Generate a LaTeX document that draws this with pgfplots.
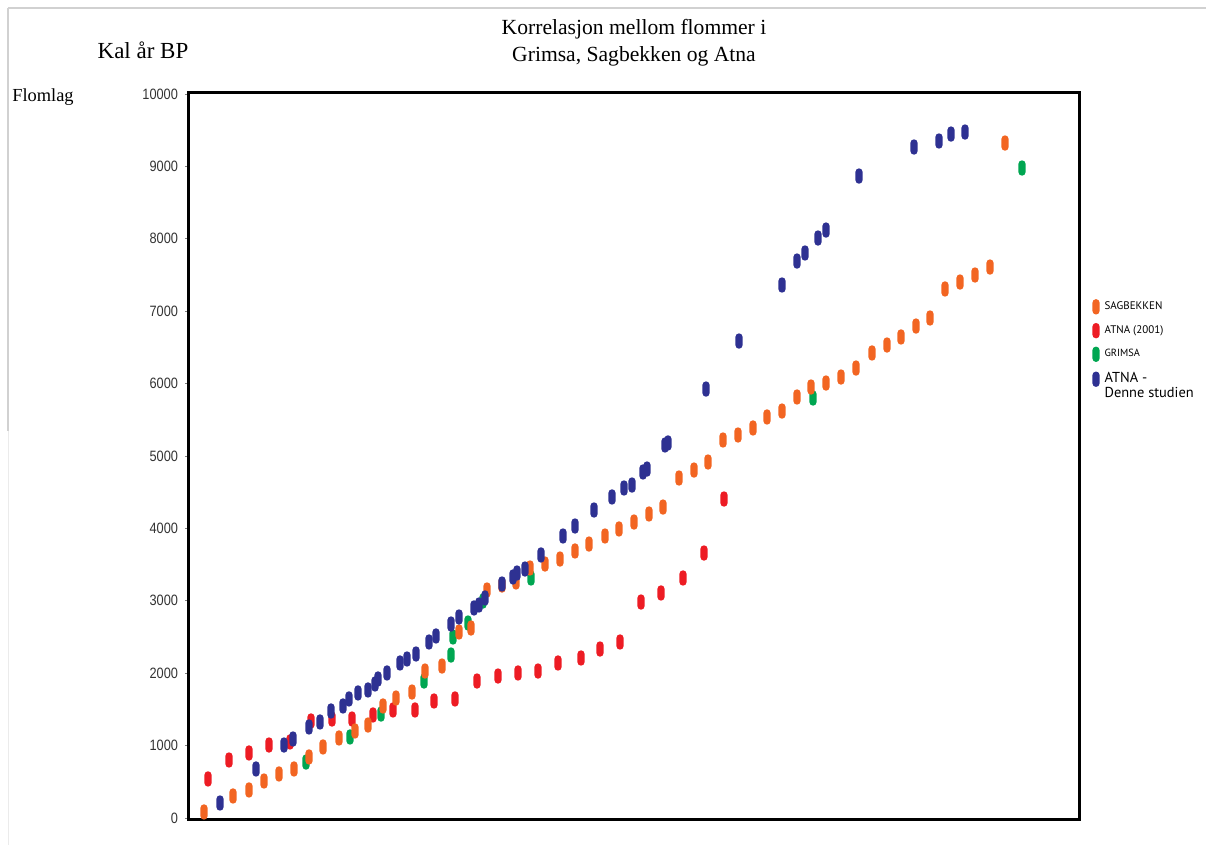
\documentclass[border=0pt]{standalone}
\usepackage{fontspec}
\setmainfont{Liberation Serif}
\newfontfamily\ticksans[FakeStretch=0.85]{Liberation Sans}
\newfontfamily\legsans{PT Sans}
\usepackage{pgfplots}
\pgfplotsset{compat=1.18}
\definecolor{cSag}{HTML}{F26522}
\definecolor{cAtna}{HTML}{ED1C24}
\definecolor{cGrim}{HTML}{00A651}
\definecolor{cDen}{HTML}{2E3192}
\pgfdeclareplotmark{pill}{%
  \pgfpathmoveto{\pgfpoint{-1.8pt}{-2.05pt}}%
  \pgfpathlineto{\pgfpoint{-1.8pt}{2.05pt}}%
  \pgfpatharc{180}{0}{1.8pt}%
  \pgfpathlineto{\pgfpoint{1.8pt}{-2.05pt}}%
  \pgfpatharc{0}{-180}{1.8pt}%
  \pgfpathclose
  \pgfusepathqfill}
\begin{document}
\begin{tikzpicture}
\path (0,0) rectangle (605pt,423.5pt);
\draw[black!18, line width=0.6pt] (4pt,419.5pt) -- (603pt,419.5pt);
\draw[black!18, line width=0.6pt] (4pt,419.5pt) -- (4pt,208pt);
\draw[black!8, line width=0.8pt] (4.3pt,208pt) -- (4.3pt,1pt);
\node[align=center, font=\fontsize{10.8}{13.5}\selectfont] at (317pt,402pt) {Korrelasjon mellom flommer i\\Grimsa, Sagbekken og Atna};
\node[font=\fontsize{11.5}{12}\selectfont] at (71.5pt,398.5pt) {Kal år BP};
\node[font=\fontsize{9.2}{11}\selectfont] at (21.5pt,375pt) {Flomlag};
\begin{axis}[
  at={(94pt,14pt)}, anchor=south west,
  scale only axis, width=445.5pt, height=363pt,
  xmin=188, xmax=1079, ymin=-14, ymax=10014,
  xtick=\empty,
  ytick={0,1000,...,10000},
  ytick pos=left,
  scaled y ticks=false,
  /pgf/number format/1000 sep={},
  /pgf/number format/assume math mode=true,
  yticklabel style={font=\ticksans\fontsize{7.5}{8}\selectfont, text=black!80},
  tick align=outside, major tick length=1.5pt,
  ytick style={draw=black!50, line width=0.4pt},
  axis line style={line width=1.5pt},
  clip=false,
  legend style={at={(1.0146,0.719)}, anchor=north west, draw=none, fill=none,
    inner sep=0pt, row sep=2.5pt, column sep=0.5pt, cells={anchor=west}, font=\legsans},
  legend image code/.code={\path[#1] plot coordinates {(0.05cm,0cm)};},
]
\addlegendimage{only marks, mark=pill, color=cSag}
\addlegendentry{\fontsize{5.5}{6}\selectfont SAGBEKKEN}
\addlegendimage{only marks, mark=pill, color=cAtna}
\addlegendentry{\fontsize{5.5}{6}\selectfont ATNA (2001)}
\addlegendimage{only marks, mark=pill, color=cGrim}
\addlegendentry{\fontsize{5.2}{6}\selectfont GRIMSA}
\addlegendimage{only marks, mark=pill, color=cDen}
\addlegendentry{\fontsize{7.2}{7.5}\selectfont\begin{tabular}[t]{@{}l@{}}ATNA -\\Denne studien\end{tabular}}
% GRIMSA
\addplot[only marks, mark=pill, color=cGrim, forget plot] coordinates {
(306,773) (350,1119) (381,1436) (424,1892) (451,2251) (453,2500) (468,2693)
(483,2997) (531,3315) (813,5801) (1022,8978)};
% ATNA (2001)
\addplot[only marks, mark=pill, color=cAtna, forget plot] coordinates {
(208,539) (229,801) (249,898) (269,1008) (290,1050) (311,1340) (332,1367)
(352,1367) (373,1423) (393,1492) (415,1492) (434,1616) (455,1644) (477,1892)
(498,1961) (518,2003) (538,2030) (558,2141) (581,2210) (600,2334) (620,2431)
(641,2983) (661,3108) (683,3315) (704,3660) (724,4406)};
% SAGBEKKEN
\addplot[only marks, mark=pill, color=cSag, forget plot] coordinates {
(204,83) (233,304) (249,387) (264,511) (279,608) (294,677) (309,843) (323,981)
(339,1105) (355,1202) (368,1284) (383,1547) (396,1657) (412,1740) (425,2030)
(442,2099) (459,2569) (471,2624) (487,3149) (502,3218) (516,3260) (530,3453)
(545,3508) (560,3577) (575,3688) (589,3784) (605,3895) (619,3992) (634,4088)
(649,4199) (663,4295) (679,4696) (694,4806) (708,4917) (723,5221) (738,5290)
(753,5387) (767,5539) (782,5621) (797,5815) (811,5953) (826,6008) (841,6091)
(856,6215) (872,6423) (887,6533) (901,6644) (916,6795) (930,6906) (945,7307)
(960,7403) (975,7500) (990,7610) (1005,9323)};
% ATNA - Denne studien
\addplot[only marks, mark=pill, color=cDen, forget plot] coordinates {
(220,207) (256,677) (284,1008) (293,1091) (309,1257) (320,1326) (331,1478)
(343,1547) (349,1644) (358,1727) (368,1768) (375,1851) (378,1920) (387,2003)
(400,2141) (407,2196) (416,2265) (429,2431) (436,2514) (451,2679) (459,2776)
(474,2901) (479,2942) (485,3039) (502,3232) (513,3329) (517,3384) (525,3439)
(541,3633) (563,3895) (575,4033) (594,4254) (612,4434) (624,4558) (632,4599)
(643,4779) (647,4820) (665,5152) (668,5180) (706,5925) (739,6588) (782,7362)
(797,7693) (805,7804) (818,8011) (826,8121) (859,8867) (914,9268) (939,9351)
(951,9447) (965,9475)};
\end{axis}
\end{tikzpicture}
\end{document}
